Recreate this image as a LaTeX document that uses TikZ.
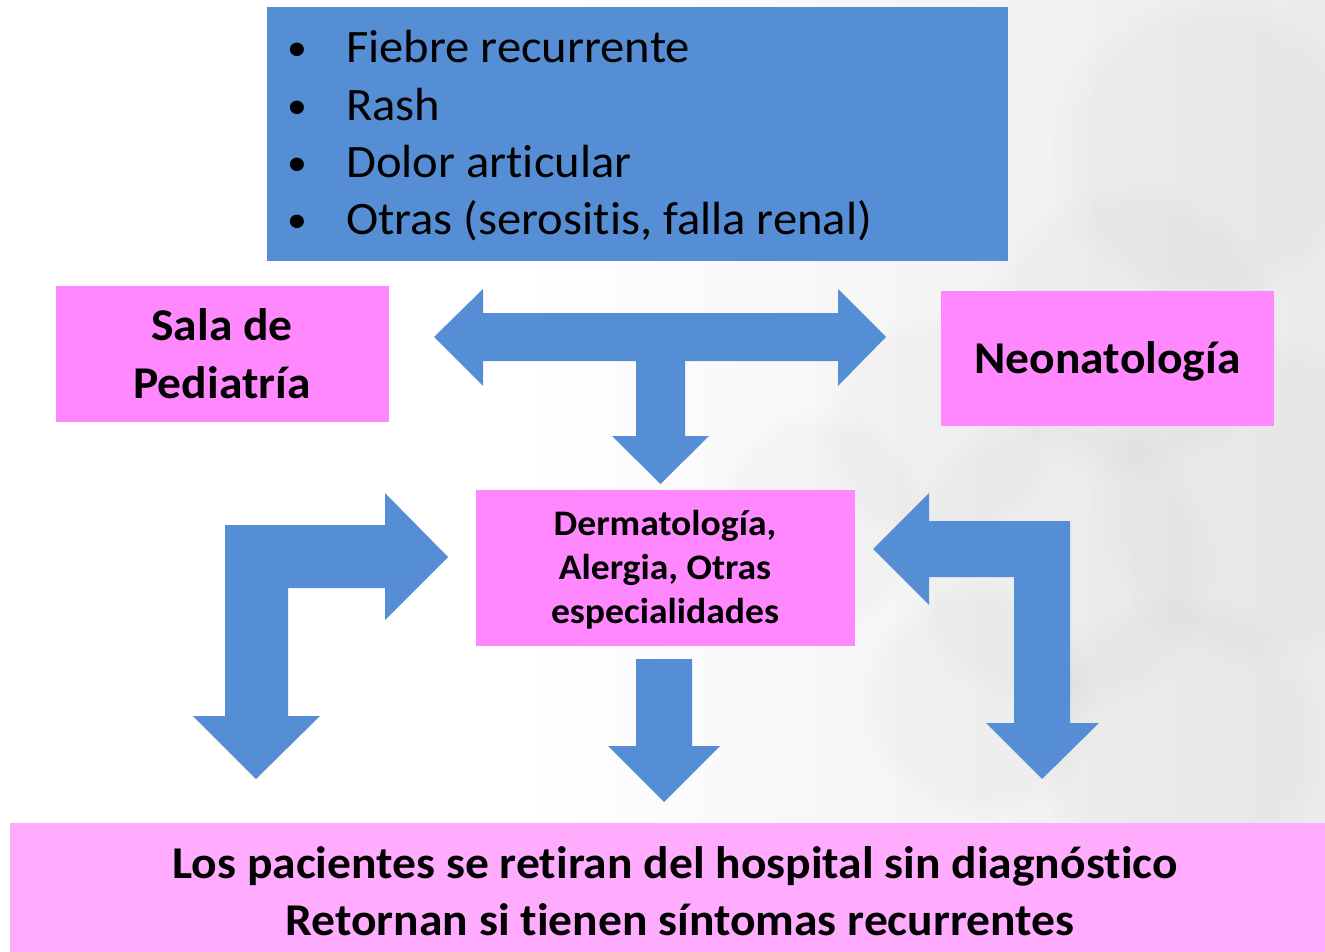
\documentclass[tikz,border=0pt]{standalone}
\usepackage{fontspec}
\setmainfont{Carlito}[RawFeature={-liga;-clig}, FakeStretch=1.045]
\usetikzlibrary{fadings}
\definecolor{arrowblue}{RGB}{85,142,213}
\definecolor{boxpink}{RGB}{255,136,255}
\definecolor{lightpink}{RGB}{255,172,255}
\tikzset{
  blockarrow/.style={fill=arrowblue, draw=none},
  pinkbox/.style={fill=boxpink, draw=none, inner sep=0pt, outer sep=0pt},
  bulletfont/.style={font=\fontsize{46.5}{57}\selectfont, inner sep=0pt, anchor=base west},
  bulletdot/.style={font=\fontsize{38}{57}\selectfont, inner sep=0pt, anchor=base west},
  boldfont/.style={font=\fontsize{45.5}{56}\selectfont\bfseries, inner sep=0pt, anchor=base},
  smallbold/.style={font=\fontsize{36}{44}\selectfont\bfseries, inner sep=0pt, anchor=base},
  smoke/.style={fill=black, opacity=0.018, path fading=circle with fuzzy edge 20 percent}
}
\begin{document}
\begin{tikzpicture}[x=1pt,y=-1pt]
  \useasboundingbox (0,0) rectangle (1325,952);
  % background
  \fill[white] (0,0) rectangle (1325,952);
  \shade[left color=white, right color=black!8] (520,0) rectangle (1325,952);
  \fill[smoke] (1210,150) circle (160);
  \fill[smoke] (1130,330) circle (150);
  \fill[smoke] (1260,500) circle (170);
  \fill[smoke] (1060,560) circle (160);
  \fill[smoke] (940,430) circle (120);
  \fill[smoke] (1180,740) circle (150);
  \fill[smoke] (980,700) circle (120);
  \fill[smoke] (820,520) circle (110);

  % top box
  \node[fill=arrowblue, draw=none, minimum width=741, minimum height=254, inner sep=0pt] (top) at (637,134) {};
  \node[bulletdot] (d1) at (287,61) {•};
  \node[bulletfont] (t1) at (346,63) {Fiebre recurrente};
  \node[bulletdot] (d2) at (287,118.5) {•};
  \node[bulletfont] (t2) at (346,120.5) {Rash};
  \node[bulletdot] (d3) at (287,176) {•};
  \node[bulletfont] (t3) at (346,178) {Dolor articular};
  \node[bulletdot] (d4) at (287,233) {•};
  \node[bulletfont] (t4) at (346,235) {Otras (serositis, falla renal)};

  % side boxes
  \node[pinkbox, minimum width=333, minimum height=136] (sala) at (222.5,354) {};
  \node[boldfont] (salat1) at (222,340) {Sala de};
  \node[boldfont] (salat2) at (222,398.5) {Pediatría};

  \node[pinkbox, minimum width=333, minimum height=135] (neo) at (1107.5,358.5) {};
  \node[boldfont] (neot) at (1107.5,373.3) {Neonatología};

  % middle box
  \node[pinkbox, minimum width=379, minimum height=156] (mid) at (665.5,568) {};
  \node[smallbold] (midt1) at (665,535) {Dermatología,};
  \node[smallbold] (midt2) at (665,579) {Alergia, Otras};
  \node[smallbold] (midt3) at (665,623) {especialidades};

  % bottom box
  \node[fill=lightpink, draw=none, inner sep=0pt, minimum width=1315, minimum height=129] (bottom) at (667.5,887.5) {};
  \node[boldfont] (bt1) at (675,878.7) {Los pacientes se retiran del hospital sin diagnóstico};
  \node[boldfont] (bt2) at (680,935) {Retornan si tienen síntomas recurrentes};

  % T-shaped arrow
  \fill[blockarrow] (434,337) -- (483,289) -- (483,313) -- (838,313) -- (838,289)
    -- (886,337) -- (838,386) -- (838,361) -- (685,361) -- (685,436) -- (709,436)
    -- (660.5,484) -- (612,436) -- (636,436) -- (636,361) -- (483,361) -- (483,386) -- cycle;

  % left bent arrow
  \fill[blockarrow] (225,716) -- (225,525) -- (385,525) -- (385,493) -- (448,557)
    -- (385,620) -- (385,588) -- (288,588) -- (288,716) -- (320,716) -- (256,779)
    -- (193,716) -- cycle;

  % right bent arrow
  \fill[blockarrow] (1070,723) -- (1070,521) -- (929,521) -- (929,493) -- (873,549)
    -- (929,605) -- (929,577) -- (1014,577) -- (1014,723) -- (986,723) -- (1042,779)
    -- (1099,723) -- cycle;

  % middle down arrow
  \fill[blockarrow] (636,659) -- (692,659) -- (692,746) -- (720,746) -- (664,802)
    -- (608,746) -- (636,746) -- cycle;
\end{tikzpicture}
\end{document}
